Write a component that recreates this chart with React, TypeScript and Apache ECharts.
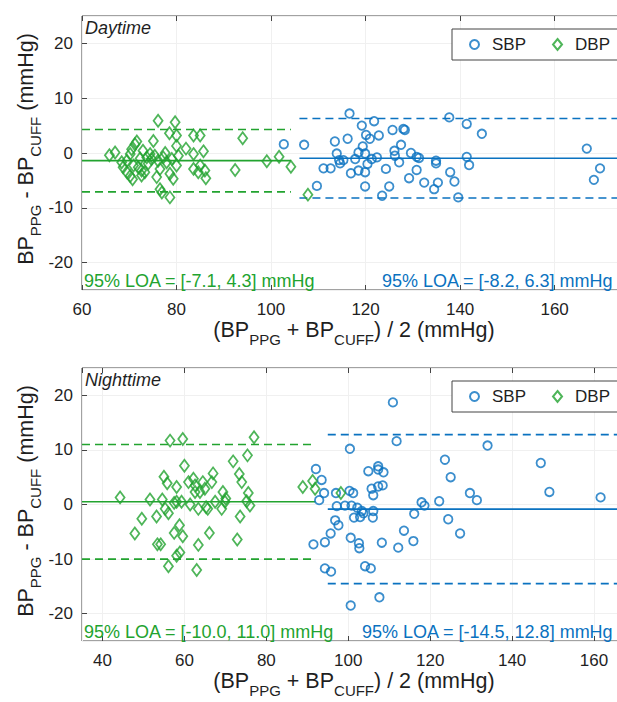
import React, { useEffect, useRef } from 'react';
import * as echarts from 'echarts';

// ---------- data ----------
const dayDBP: [number, number][] = [
  [65.8, -0.4], [67.0, 0.1], [68.4, -1.7], [68.7, -2.6], [69.5, -3.5], [70.2, -4.2], [70.7, -4.8], [69.5, -1.4],
  [70.2, -0.2], [70.5, 0.7], [71.2, 1.6], [71.6, 2.1], [70.9, -2.3], [71.9, -2.6], [72.6, -3.2], [72.6, -4.1],
  [73.3, -3.5], [73.7, -0.8], [74.4, -0.2], [74.7, -1.1], [75.4, -0.5], [76.1, -1.4], [75.1, 2.2], [76.1, 5.9],
  [75.8, -4.4], [76.5, -6.6], [76.9, -7.2], [78.6, -8.1], [78.6, -3.8], [79.3, -4.7], [80.0, -2.3], [79.7, 5.6],
  [78.5, 3.6], [80.0, 3.2], [80.0, 1.3], [77.2, -0.8], [77.9, -1.7], [79.0, -1.1], [80.4, -0.5], [82.0, 0.8],
  [83.6, 3.2], [85.0, 3.2], [83.6, -0.2], [85.7, 0.3], [85.0, -2.3], [83.6, -2.9], [84.6, -3.5], [86.0, -3.2],
  [86.2, -4.6], [92.4, -3.1], [94.0, 2.7], [99.1, -1.5], [101.7, -0.7], [104.2, -2.5], [107.8, -7.6], [72.3, -1.0],
  [74.0, -1.9], [77.6, 0.0], [72.9, 0.4], [76.5, -2.9],
];
const daySBP: [number, number][] = [
  [102.7, 1.6], [107.0, 1.5], [109.7, -6.0], [111.1, -2.8], [112.6, -2.8], [113.5, 2.1], [113.9, -0.1], [114.4, -1.3],
  [114.6, -1.9], [115.3, -1.3], [116.2, 2.6], [116.6, 7.2], [116.9, -3.7], [117.8, -1.1], [118.5, 0.1], [118.5, -3.2],
  [119.2, 5.0], [119.4, 1.2], [119.9, -0.1], [120.1, 3.3], [120.4, -2.0], [119.9, -3.5], [119.9, -6.1], [120.9, 2.6],
  [121.3, -1.1], [121.8, 5.8], [122.4, -0.8], [122.8, 3.2], [123.5, -7.8], [124.3, -2.9], [125.0, -6.1], [125.7, 4.2],
  [126.1, 0.4], [126.2, -0.5], [127.1, -1.7], [127.5, 1.5], [128.0, 4.4], [128.3, 4.2], [129.2, -4.6], [129.6, 0.0],
  [130.8, -3.1], [130.8, -0.7], [131.3, -0.9], [132.4, -5.4], [134.5, -6.6], [134.9, -1.4], [134.9, -1.9], [135.3, -5.4],
  [137.7, 6.5], [137.9, -3.5], [138.8, -5.2], [139.6, -8.1], [141.4, 5.3], [141.4, -0.7], [141.9, -2.2], [144.6, 3.5],
  [166.8, 0.8], [169.6, -2.8], [168.3, -4.9],
];
const nightDBP: [number, number][] = [
  [44.3, 1.3], [47.9, -5.3], [49.6, -2.6], [51.6, 0.9], [53.2, -2.2], [53.4, -7.3], [54.2, -7.3], [54.6, 0.9],
  [55.0, 5.1], [55.3, -0.8], [55.8, 3.9], [56.1, -1.6], [56.1, -11.3], [56.5, 11.7], [57.5, 0.3], [57.5, -5.2],
  [58.1, 3.2], [58.1, 0.5], [58.8, -3.8], [58.1, -9.4], [58.9, -8.8], [59.6, 12.0], [60.0, 7.1], [59.6, -5.8],
  [59.3, 0.5], [61.0, 4.1], [61.4, 0.0], [62.2, 4.7], [62.6, 3.5], [62.6, 2.3], [63.0, -12.0], [63.4, -0.8],
  [63.4, -7.4], [63.8, 2.3], [64.5, 4.1], [65.0, 2.9], [65.3, -0.5], [65.7, -0.8], [66.1, -5.2], [66.7, 4.1],
  [67.0, 5.7], [67.5, 0.5], [69.1, -0.8], [69.4, 2.3], [69.9, 0.5], [70.1, 1.1], [71.9, 7.9], [73.4, 5.6],
  [74.0, 4.1], [73.6, -2.2], [72.9, -6.4], [75.4, 9.0], [75.6, 2.1], [75.2, 0.6], [76.0, -0.2], [77.0, 12.3],
  [88.9, 3.2], [91.3, 4.3], [91.9, 2.9], [98.2, 2.1],
];
const nightSBP: [number, number][] = [
  [110.9, 18.7], [111.8, 11.6], [100.4, 10.2], [92.1, 6.5], [93.5, 4.5], [94.1, 2.1], [92.9, 0.8], [97.0, 2.1],
  [100.3, 2.5], [101.2, 2.1], [97.2, -0.3], [99.2, -0.2], [100.8, -0.2], [102.2, -0.6], [103.3, -1.2], [103.7, -1.6],
  [102.9, -2.3], [101.4, -2.4], [106.1, -1.2], [106.0, -2.4], [104.9, 6.1], [107.3, 7.0], [107.3, 6.4], [108.6, 5.9],
  [105.7, 2.9], [106.1, 1.7], [107.3, 3.3], [108.4, 3.5], [96.8, -2.9], [97.6, -3.8], [95.7, -5.3], [94.3, -6.9],
  [91.5, -7.3], [100.6, -6.1], [102.6, -7.1], [102.7, -8.0], [108.2, -7.0], [112.2, -7.9], [113.6, -4.8], [115.9, -6.7],
  [116.1, -1.7], [117.9, 0.4], [118.6, -0.2], [122.2, 0.6], [123.6, 8.2], [125.0, 5.0], [124.4, -2.7], [127.3, -5.3],
  [129.7, 2.1], [131.4, 0.8], [134.0, 10.8], [147.0, 7.6], [149.1, 2.3], [161.6, 1.3], [94.3, -11.7], [95.8, -12.3],
  [104.1, -11.3], [105.5, -11.7], [100.6, -18.5], [107.6, -17.0],
];

// limits of agreement [lower, upper] (mmHg)
const dayLoaDBP = [-7.1, 4.3];
const dayLoaSBP = [-8.2, 6.3];
const nightLoaDBP = [-10.0, 11.0];
const nightLoaSBP = [-14.5, 12.8];

// x extent of the mean / LOA lines
const daySpanDBP = [60, 104.2];
const daySpanSBP = [106, 177];
const nightSpanDBP = [35, 92];
const nightSpanSBP = [95, 170];

// axis ranges
const dayXRange = [60, 177];
const nightXRange = [35, 170];
const yRange = [-25, 25];

const legendNames = ['SBP', 'DBP'];
const panelTitles = ['Daytime', 'Nighttime'];

// ---------- style ----------
const FONT = '"Liberation Sans", Arial, Helvetica, sans-serif';
const BLUE = '#0a72c0';
const GREEN = '#22a32f';
const AX = '#444444';
const TXT = '#1f1f1f';

const fmt = (v: number) => v.toFixed(1);
const loaText = (l: number[]) => `95% LOA = [${fmt(l[0])}, ${fmt(l[1])}] mmHg`;

const xAxisDef = (grid: number, range: number[], split: number, pos: 'bottom' | 'top', showMin: boolean) => ({
  type: 'value',
  gridIndex: grid,
  min: range[0],
  max: range[1],
  splitNumber: split,
  position: pos,
  axisLine: { show: false, onZero: false },
  axisTick: { show: true, inside: true, length: 5, lineStyle: { color: AX } },
  axisLabel: {
    show: pos === 'bottom',
    fontSize: 17,
    fontFamily: FONT,
    color: TXT,
    margin: 11,
    showMinLabel: showMin,
    showMaxLabel: false,
  },
  splitLine: { show: pos === 'bottom', lineStyle: { color: '#f0f0f0', width: 1 } },
});

const yAxisDef = (grid: number) => ({
  type: 'value',
  gridIndex: grid,
  min: yRange[0],
  max: yRange[1],
  splitNumber: 5,
  axisLine: { show: false, onZero: false },
  axisTick: { show: true, inside: true, length: 5, lineStyle: { color: AX } },
  axisLabel: {
    fontSize: 17,
    fontFamily: FONT,
    color: TXT,
    margin: 9,
    showMinLabel: false,
    showMaxLabel: false,
  },
  splitLine: { show: true, lineStyle: { color: '#f0f0f0', width: 1 } },
});

const scatterSBP = (xi: number, yi: number, data: [number, number][]) => ({
  type: 'scatter',
  name: 'SBP',
  xAxisIndex: xi,
  yAxisIndex: yi,
  data,
  symbol: 'circle',
  symbolSize: 8.5,
  itemStyle: { color: 'rgba(255,255,255,0)', borderColor: BLUE, borderWidth: 1.8 },
  z: 3,
});

const scatterDBP = (xi: number, yi: number, data: [number, number][]) => ({
  type: 'scatter',
  name: 'DBP',
  xAxisIndex: xi,
  yAxisIndex: yi,
  data,
  symbol: 'diamond',
  symbolSize: [9, 12],
  itemStyle: { color: 'rgba(255,255,255,0)', borderColor: GREEN, borderWidth: 1.8 },
  z: 3,
});

const hLine = (id: string, xi: number, yi: number, span: number[], y: number, dashed: boolean, color: string) => ({
  type: 'line',
  name: id,
  xAxisIndex: xi,
  yAxisIndex: yi,
  data: [
    [span[0], y],
    [span[1], y],
  ],
  symbol: 'none',
  silent: true,
  lineStyle: { color, width: 1.6, type: dashed ? [8, 5] : 'solid' },
  z: 2,
});

const loaLines = (tag: string, xi: number, yi: number, span: number[], loa: number[], color: string) => [
  hLine(tag + '-mean', xi, yi, span, (loa[0] + loa[1]) / 2, false, color),
  hLine(tag + '-lo', xi, yi, span, loa[0], true, color),
  hLine(tag + '-hi', xi, yi, span, loa[1], true, color),
];

const richLabel = {
  a: { fontSize: 21.5, fontFamily: FONT, lineHeight: 26, verticalAlign: 'top', fill: TXT, color: TXT },
  s: { fontSize: 15, fontFamily: FONT, lineHeight: 15, padding: [13, 0, 0, 0], verticalAlign: 'top', fill: TXT, color: TXT },
};
const xLabelText = '{a|(BP}{s|PPG}{a| + BP}{s|CUFF}{a|) / 2 (mmHg)}';
const yLabelText = '{a|BP}{s|PPG}{a| - BP}{s|CUFF}{a| (mmHg)}';

const GRID_TOP = [16, 368];
const GRID_H = [274, 273];
const GRID_LEFT = 82;
const GRID_W = 553;

export default function App() {
  const ref = useRef<HTMLDivElement>(null);

  useEffect(() => {
    if (!ref.current) return;
    const chart = echarts.init(ref.current, undefined, { renderer: 'svg' });

    const legendBase = {
      data: legendNames,
      left: 452,
      orient: 'horizontal',
      itemWidth: 9,
      itemHeight: 11,
      itemGap: 26,
      symbolKeepAspect: true,
      padding: [7, 14, 7, 17],
      borderColor: AX,
      borderWidth: 1,
      borderRadius: 0,
      backgroundColor: '#ffffff',
      selectedMode: false,
      textStyle: { fontSize: 17, fontFamily: FONT, color: TXT, padding: [0, 0, 0, 8] },
    };

    const graphicTexts: any[] = [];
    [0, 1].forEach((g) => {
      const top = GRID_TOP[g];
      const bottom = GRID_TOP[g] + GRID_H[g];
      graphicTexts.push({
        type: 'text',
        x: 85,
        y: top + 3,
        style: { text: panelTitles[g], font: `italic 18px ${FONT}`, fill: TXT, verticalAlign: 'top' },
        z: 10,
      });
      graphicTexts.push({
        type: 'text',
        x: 354,
        y: bottom + 42,
        style: { text: xLabelText, rich: richLabel, align: 'center', verticalAlign: 'middle', fill: TXT },
        z: 10,
      });
      graphicTexts.push({
        type: 'text',
        x: 28,
        y: top + 133,
        rotation: Math.PI / 2,
        style: { text: yLabelText, rich: richLabel, align: 'center', verticalAlign: 'middle', fill: TXT },
        z: 10,
      });
    });
    const loaPos = [
      { g: 0, x: 84, loa: dayLoaDBP, c: GREEN },
      { g: 0, x: 382, loa: dayLoaSBP, c: BLUE },
      { g: 1, x: 84, loa: nightLoaDBP, c: GREEN },
      { g: 1, x: 362, loa: nightLoaSBP, c: BLUE },
    ];
    loaPos.forEach((p) => {
      graphicTexts.push({
        type: 'text',
        x: p.x,
        y: GRID_TOP[p.g] + GRID_H[p.g],
        style: { text: loaText(p.loa), font: `18px ${FONT}`, fill: p.c, verticalAlign: 'bottom' },
        z: 10,
      });
    });

    chart.setOption({
      animation: false,
      backgroundColor: '#ffffff',
      grid: [0, 1].map((g) => ({
        left: GRID_LEFT,
        top: GRID_TOP[g],
        width: GRID_W,
        height: GRID_H[g],
        show: true,
        borderColor: AX,
        borderWidth: 1,
        backgroundColor: 'rgba(0,0,0,0)',
      })),
      xAxis: [
        xAxisDef(0, dayXRange, 6, 'bottom', true),
        xAxisDef(0, dayXRange, 6, 'top', true),
        xAxisDef(1, nightXRange, 7, 'bottom', false),
        xAxisDef(1, nightXRange, 7, 'top', false),
      ],
      yAxis: [yAxisDef(0), yAxisDef(1)],
      legend: [
        { ...legendBase, top: 29 },
        { ...legendBase, top: 381 },
      ],
      series: [
        ...loaLines('dayDBP', 0, 0, daySpanDBP, dayLoaDBP, GREEN),
        ...loaLines('daySBP', 0, 0, daySpanSBP, dayLoaSBP, BLUE),
        ...loaLines('nightDBP', 2, 1, nightSpanDBP, nightLoaDBP, GREEN),
        ...loaLines('nightSBP', 2, 1, nightSpanSBP, nightLoaSBP, BLUE),
        scatterSBP(0, 0, daySBP),
        scatterDBP(0, 0, dayDBP),
        scatterSBP(2, 1, nightSBP),
        scatterDBP(2, 1, nightDBP),
      ],
      graphic: graphicTexts,
    });

    return () => chart.dispose();
  }, []);

  return (
    <div style={{ position: 'fixed', left: 0, top: 0, width: 617, height: 702, overflow: 'hidden', background: '#fff' }}>
      <div ref={ref} style={{ width: 660, height: 702 }} />
    </div>
  );
}
